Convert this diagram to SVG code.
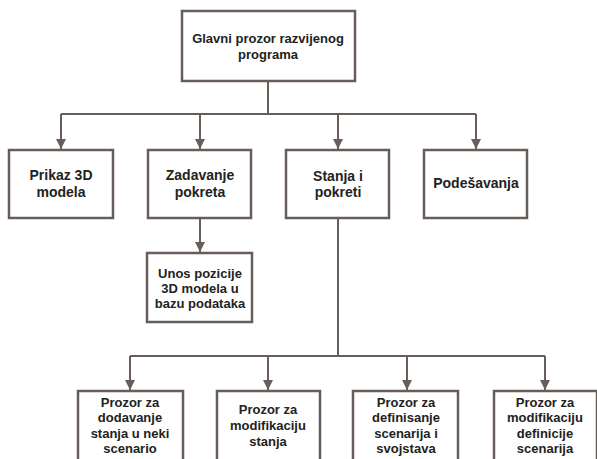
<svg xmlns="http://www.w3.org/2000/svg" width="597" height="459" viewBox="0 0 597 459">
  <style>
    .box { fill: #ffffff; stroke: #675e5a; stroke-width: 2.5; }
    .wire { fill: none; stroke: #675e5a; stroke-width: 2; }
    text { font-family: "Liberation Sans", Arial, sans-serif; font-weight: bold; fill: #222222; text-anchor: middle; }
    .t13 { font-size: 13px; }
    .t14 { font-size: 14px; }
  </style>
  <defs>
    <marker id="arrow" viewBox="0 0 10 10" refX="10" refY="5" markerWidth="5" markerHeight="5" orient="auto" markerUnits="strokeWidth">
      <path d="M0,0 L10,5 L0,10 z" fill="#675e5a"/>
    </marker>
  </defs>
  <rect width="597" height="459" fill="#ffffff"/>

  <g id="connectors">
    <!-- main window to the four sections -->
    <path class="wire" d="M268,81 V114"/>
    <path class="wire" d="M61,114 H476"/>
    <path class="wire" d="M61,114 V149" marker-end="url(#arrow)"/>
    <path class="wire" d="M200,114 V149" marker-end="url(#arrow)"/>
    <path class="wire" d="M338,114 V149" marker-end="url(#arrow)"/>
    <path class="wire" d="M476,114 V149" marker-end="url(#arrow)"/>
    <!-- Zadavanje pokreta to position entry -->
    <path class="wire" d="M200,218 V252" marker-end="url(#arrow)"/>
    <!-- Stanja i pokreti to the four windows -->
    <path class="wire" d="M338,218 V356"/>
    <path class="wire" d="M130,356 H545"/>
    <path class="wire" d="M130,356 V390" marker-end="url(#arrow)"/>
    <path class="wire" d="M268,356 V390" marker-end="url(#arrow)"/>
    <path class="wire" d="M407,356 V390" marker-end="url(#arrow)"/>
    <path class="wire" d="M545,356 V390" marker-end="url(#arrow)"/>
  </g>

  <g id="glavni">
    <rect class="box" x="182" y="11" width="173" height="70"/>
    <text class="t13" x="268" y="43">Glavni prozor razvijenog</text>
    <text class="t13" x="268" y="59">programa</text>
  </g>

  <g id="prikaz">
    <rect class="box" x="9" y="150" width="104" height="68"/>
    <text class="t14" x="61" y="180">Prikaz 3D</text>
    <text class="t14" x="61" y="197">modela</text>
  </g>

  <g id="zadavanje">
    <rect class="box" x="148" y="150" width="103" height="68"/>
    <text class="t14" x="200" y="180">Zadavanje</text>
    <text class="t14" x="200" y="197">pokreta</text>
  </g>

  <g id="stanja">
    <rect class="box" x="286" y="150" width="103" height="68"/>
    <text class="t14" x="338" y="181">Stanja i</text>
    <text class="t14" x="338" y="197">pokreti</text>
  </g>

  <g id="podesavanja">
    <rect class="box" x="424" y="150" width="103" height="68"/>
    <text class="t14" x="476" y="188">Podešavanja</text>
  </g>

  <g id="unos">
    <rect class="box" x="147" y="253" width="105" height="69"/>
    <text class="t13" x="200" y="278">Unos pozicije</text>
    <text class="t13" x="200" y="293">3D modela u</text>
    <text class="t13" x="200" y="308">bazu podataka</text>
  </g>

  <g id="dodavanje">
    <rect class="box" x="78" y="391" width="105" height="75"/>
    <text class="t13" x="130" y="407">Prozor za</text>
    <text class="t13" x="130" y="422">dodavanje</text>
    <text class="t13" x="130" y="438">stanja u neki</text>
    <text class="t13" x="130" y="453">scenario</text>
  </g>

  <g id="modifikacija-stanja">
    <rect class="box" x="217" y="391" width="103" height="75"/>
    <text class="t13" x="268" y="414">Prozor za</text>
    <text class="t13" x="268" y="430">modifikaciju</text>
    <text class="t13" x="268" y="446">stanja</text>
  </g>

  <g id="definisanje">
    <rect class="box" x="353" y="391" width="105" height="75"/>
    <text class="t13" x="406" y="407">Prozor za</text>
    <text class="t13" x="406" y="422">definisanje</text>
    <text class="t13" x="406" y="438">scenarija i</text>
    <text class="t13" x="406" y="453">svojstava</text>
  </g>

  <g id="modifikacija-definicije">
    <rect class="box" x="494" y="391" width="103" height="75"/>
    <text class="t13" x="545" y="407">Prozor za</text>
    <text class="t13" x="545" y="422">modifikaciju</text>
    <text class="t13" x="545" y="438">definicije</text>
    <text class="t13" x="545" y="453">scenarija</text>
  </g>
</svg>
